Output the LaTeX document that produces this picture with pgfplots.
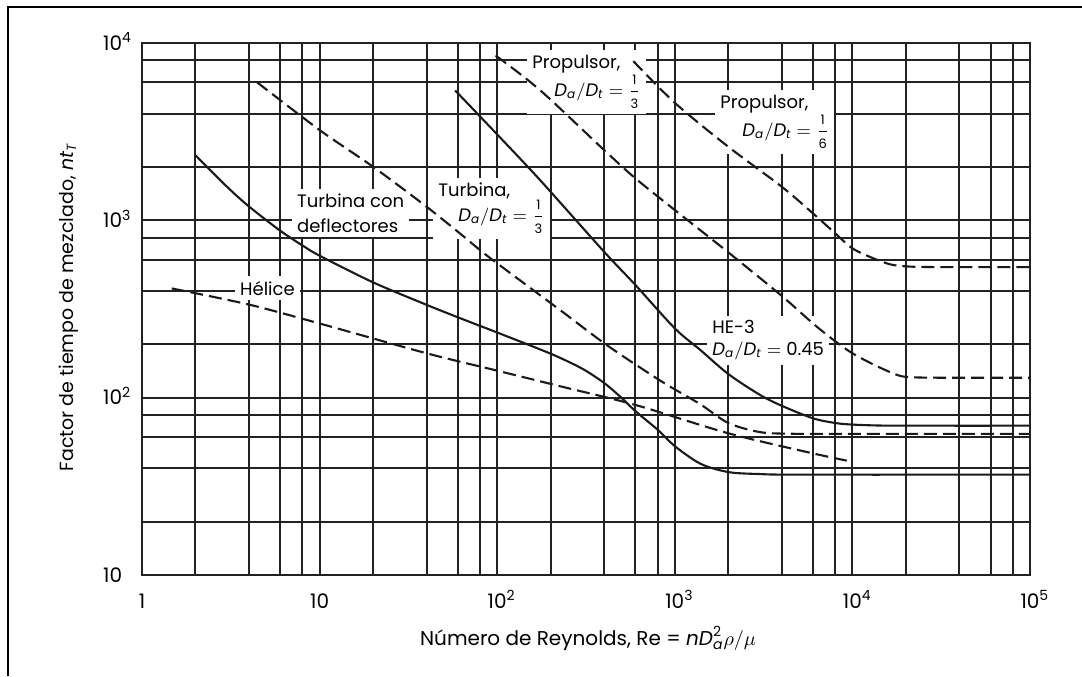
\documentclass[border=0pt]{standalone}
\usepackage{fontspec}
\setmainfont{Poppins}
\usepackage{amsmath}
\usepackage{pgfplots}
\pgfplotsset{compat=1.18}
\definecolor{gridc}{HTML}{222222}
\definecolor{curvec}{HTML}{1A1A1A}
\newcommand{\sfrac}[2]{\genfrac{}{}{0.5pt}{0}{\text{\fontsize{6.5}{7}\selectfont #1}}{\text{\fontsize{6.5}{7}\selectfont #2}}}
\newcommand{\DaDt}{\textit{D}_{\textit{a}}/\textit{D}_{\textit{t}}}
\begin{document}
\begin{tikzpicture}[x=1pt,y=1pt]
\path[use as bounding box] (0,0) rectangle (541,338);
\draw[line width=1pt] (3.8,0) -- (3.8,334.3) -- (541,334.3);
\begin{axis}[
  at={(71pt,50.5pt)}, anchor=south west,
  scale only axis, width=444pt, height=266pt,
  xmode=log, ymode=log,
  xmin=1, xmax=1e5, ymin=10, ymax=1e4,
  xtick={1,10,100,1000,10000,100000},
  xticklabels={1,10,10\rlap{\textsuperscript{2}},10\rlap{\textsuperscript{3}},10\rlap{\textsuperscript{4}},10\rlap{\textsuperscript{5}}},
  minor xtick={2,4,6,8,20,40,60,80,200,400,600,800,2000,4000,6000,8000,20000,40000,60000,80000},
  ytick={10,100,1000,10000},
  yticklabels={10,10\rlap{\textsuperscript{2}},10\rlap{\textsuperscript{3}},10\rlap{\textsuperscript{4}}},
  minor ytick={20,40,60,80,200,400,600,800,2000,4000,6000,8000},
  grid=both,
  major grid style={gridc, line width=1pt},
  minor grid style={gridc, line width=1pt},
  axis line style={gridc, line width=1pt},
  major tick length=0pt, minor tick length=0pt,
  tick label style={font=\fontsize{10}{12}\selectfont},
  xticklabel style={anchor=base, inner sep=0pt, yshift=-16.5pt},
  yticklabel style={anchor=base east, inner sep=0pt, xshift=-9.75pt, yshift=-3.6pt},
  xlabel={Número de Reynolds, Re = $\textit{n}\textit{D}_{\textit{a}}^{\text{2}}\rho/\mu$},
  ylabel={Factor de tiempo de mezclado, $\textit{nt}_{\textit{T}}$},
  xlabel style={font=\fontsize{10}{12}\selectfont, at={(axis description cs:0.5023,-0.1316)}, anchor=base},
  ylabel style={font=\fontsize{9.5}{11}\selectfont, at={(axis description cs:-0.0777,0.5028)}, anchor=base},
]
\tikzset{lab/.style={fill=white, inner sep=2.5pt, align=left, font=\fontsize{9}{12.5}\selectfont},
  dsh/.style={curvec, line width=1.05pt, dash pattern=on 6.5pt off 3pt, smooth},
  sld/.style={curvec, line width=1.05pt, smooth}}
% labels (drawn under the curves, over the grid)
\node[lab] at (rel axis cs:0.1413,0.5389) {Hélice};
\node[lab, anchor=west] at (rel axis cs:0.1686,0.6805) {Turbina con\\deflectores};
\node[lab, anchor=west] at (rel axis cs:0.3277,0.6898) {Turbina,\\\hspace*{10pt}$\DaDt = \sfrac{1}{3}$};
\node[lab, anchor=west] at (rel axis cs:0.4336,0.9267) {Propulsor,\\\hspace*{11pt}$\DaDt = \sfrac{1}{3}$};
\node[lab, anchor=west] at (rel axis cs:0.6453,0.8515) {Propulsor,\\\hspace*{11pt}$\DaDt = \sfrac{1}{6}$};
\node[lab, anchor=west, font=\fontsize{9}{11}\selectfont] at (rel axis cs:0.6363,0.4408) {HE-3\\$\DaDt = \text{0.45}$};

% Helice (dashed)
\addplot[dsh] coordinates {
(1.47,413) (4,335) (10,262) (40,178) (100,142) (226,116) (600,91) (2000,63) (6000,48.5) (10000,43.5)};
% Turbina con deflectores (solid)
\addplot[sld] coordinates {
(2,2330) (3,1552) (4,1198) (6,874) (8,722) (10,632) (20,447) (40,334) (60,284) (100,233) (200,177) (300,146) (400,121) (500,100) (600,84) (800,66) (1000,53.3) (1320,43.7) (1600,40.2) (2100,37.8) (3000,37.1) (5000,36.8) (100000,36.8)};
% Turbina Da/Dt = 1/3 (dashed)
\addplot[dsh] coordinates {
(4.45,6000) (10,3230) (20,2005) (40,1194) (60,863) (80,680) (100,572) (226,312) (414,198) (826,125) (1387,92) (2000,72) (3000,64) (4500,62.6) (10000,62.5) (100000,62.5)};
% HE-3 (solid)
\addplot[sld] coordinates {
(58,5400) (100,3050) (174,1690) (400,665) (600,432) (1000,246) (1390,186) (2000,136) (3000,104) (4000,90) (6000,76.5) (8000,72) (10000,70.5) (15000,69.6) (30000,69.5) (100000,69.5)};
% Propulsor Da/Dt = 1/3 (dashed)
\addplot[dsh] coordinates {
(98,8500) (174,5430) (400,2490) (600,1725) (1000,1143) (2000,660) (4000,375) (6000,262) (8000,208) (10000,178) (13100,154) (17000,137) (20000,131) (30000,129.6) (100000,129.5)};
% Propulsor Da/Dt = 1/6 (dashed)
\addplot[dsh] coordinates {
(584,7900) (1000,4600) (2000,2600) (4000,1548) (6000,1094) (8000,845) (10000,695) (13100,611) (16300,565) (20000,550) (30000,545) (100000,545)};
\end{axis}
\end{tikzpicture}
\end{document}
